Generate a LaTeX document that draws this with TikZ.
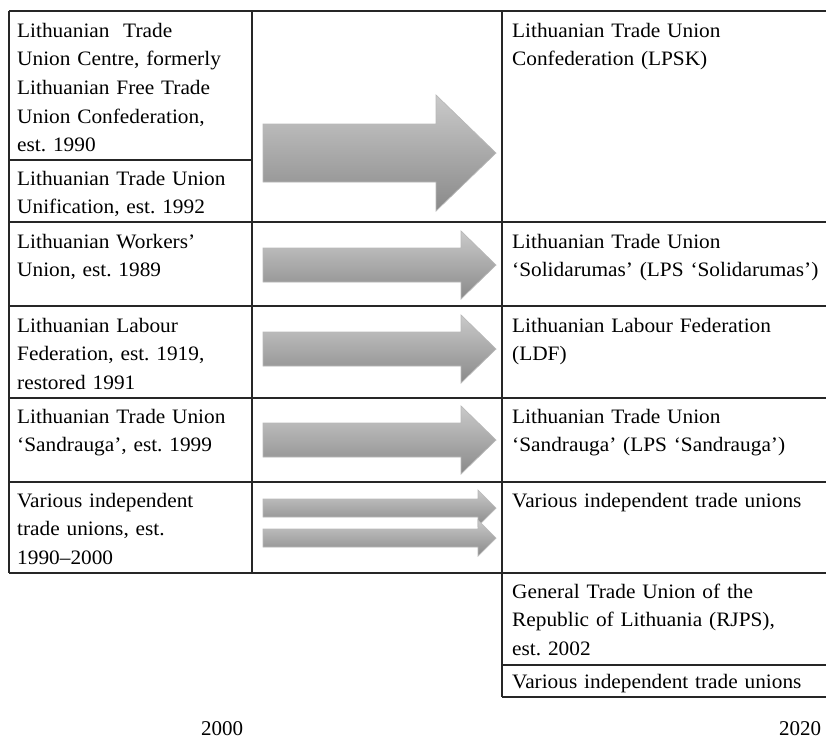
\documentclass[tikz,border=0pt]{standalone}
\usepackage{fontspec}
\setmainfont{Liberation Serif}[FakeStretch=1.04]
\newfontfamily\yearfont{Liberation Serif}
\frenchspacing
\newcommand\farrow[6]{%
  \draw[flow] (#1,#2-#3) -- (#5,#2-#3) -- (#5,#2-#4) -- (#6,#2)
    -- (#5,#2+#4) -- (#5,#2+#3) -- (#1,#2+#3) -- cycle;}
\begin{document}
\begin{tikzpicture}[x=1pt,y=-1pt,
  grid/.style={draw=black!85, line width=1.3pt},
  flow/.style={draw=black!28, line width=0.7pt, top color=black!21, bottom color=black!46},
  cell/.style={anchor=base west, inner sep=0pt, text width=330pt, align=left,
    font=\fontsize{20.5}{28.7}\selectfont\frenchspacing},
  yearlabel/.style={anchor=base, inner sep=0pt, font=\yearfont\fontsize{21}{25}\selectfont}]
\useasboundingbox (0,0) rectangle (826,742);
% grid
\draw[grid] (9,11) -- (826,11);
\foreach \y in {222,306,398,482,573} {\draw[grid] (9,\y) -- (826,\y);}
\draw[grid] (9,160) -- (252,160);
\draw[grid] (9,11) -- (9,573);
\draw[grid] (252,11) -- (252,573);
\draw[grid] (502,11) -- (502,697);
\draw[grid] (502,665) -- (826,665);
\draw[grid] (502,697) -- (826,697);
% arrows
\farrow{263}{153}{29}{58}{436}{496}
\farrow{263}{265}{17}{34}{461}{496}
\farrow{263}{349}{17}{34}{461}{496}
\farrow{263}{440}{17}{34}{461}{496}
\farrow{263}{508}{9}{18}{478}{496}
\farrow{263}{538}{9}{18}{478}{496}
% left column
\node[cell] (l1) at (17,37) {Lithuanian\ \ Trade\\Union Centre, formerly\\Lithuanian Free Trade\\Union Confederation,\\est. 1990};
\node[cell] (l2) at (17,185) {Lithuanian Trade Union\\Unification, est. 1992};
\node[cell] (l3) at (17,248) {Lithuanian Workers'\\Union, est. 1989};
\node[cell] (l4) at (17,332) {Lithuanian Labour\\Federation, est. 1919,\\restored 1991};
\node[cell] (l5) at (17,423) {Lithuanian Trade Union\\`Sandrauga', est. 1999};
\node[cell] (l6) at (17,507) {Various independent\\trade unions, est.\\1990--2000};
% right column
\node[cell] (r1) at (512,37) {Lithuanian Trade Union\\Confederation (LPSK)};
\node[cell] (r2) at (512,248) {Lithuanian Trade Union\\`Solidarumas' (LPS `Solidarumas')};
\node[cell] (r3) at (512,332) {Lithuanian Labour Federation\\(LDF)};
\node[cell] (r4) at (512,423) {Lithuanian Trade Union\\`Sandrauga' (LPS `Sandrauga')};
\node[cell] (r5) at (512,507) {Various independent trade unions};
\node[cell] (r6) at (512,598) {General Trade Union of the\\Republic of Lithuania (RJPS),\\est. 2002};
\node[cell] (r7) at (512,688) {Various independent trade unions};
% years
\node[yearlabel] (y1) at (222,735) {2000};
\node[yearlabel] (y2) at (800,735) {2020};
\end{tikzpicture}
\end{document}
